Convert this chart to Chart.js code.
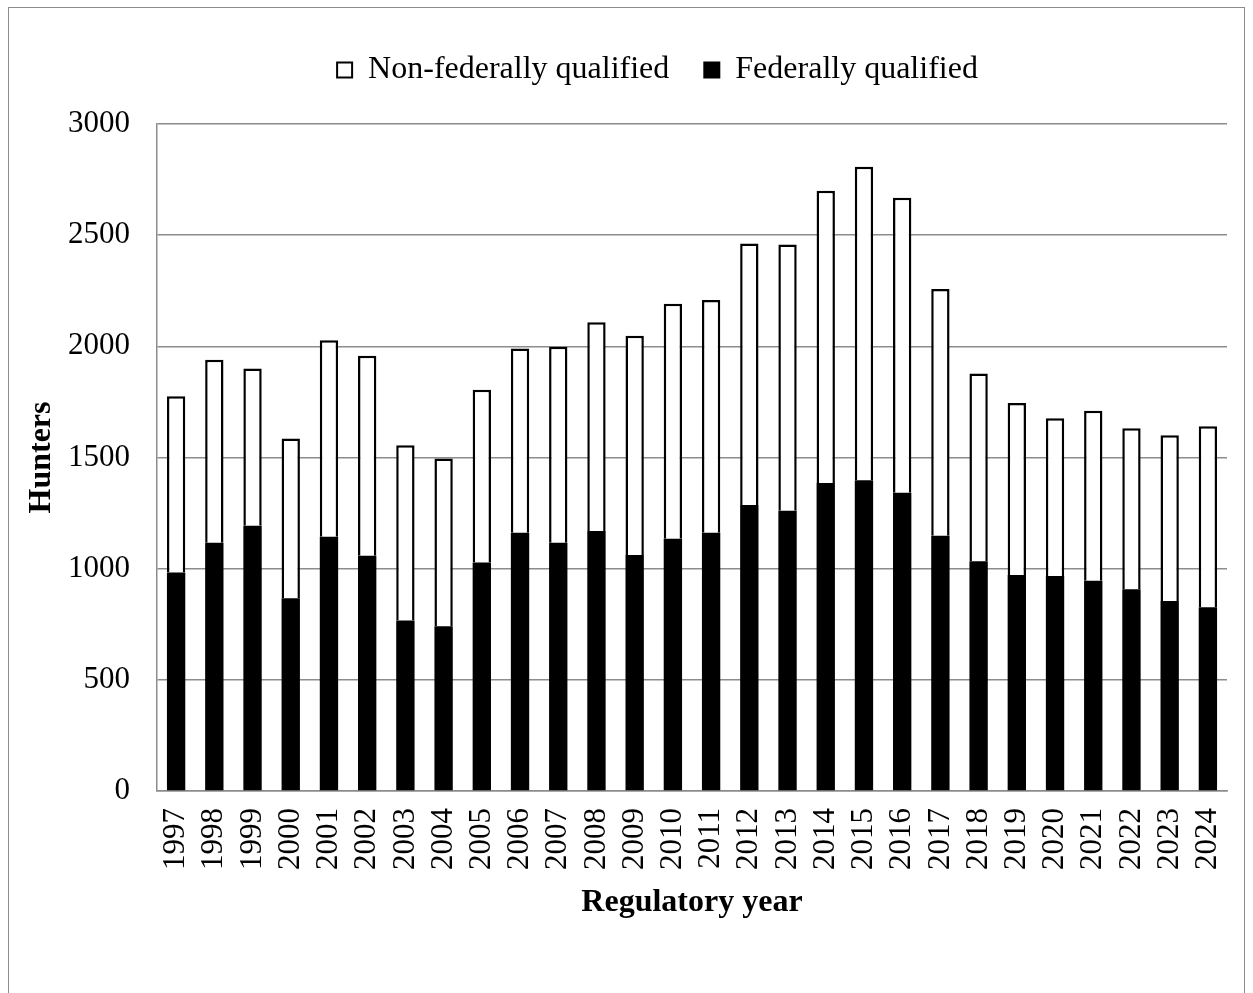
<!DOCTYPE html>
<html>
<head>
<meta charset="utf-8">
<script src="https://cdn.jsdelivr.net/npm/chart.js@4/dist/chart.umd.min.js"></script>
<style>
  html, body { margin: 0; padding: 0; background: #fff; }
  #wrap { position: relative; width: 1253px; height: 993px; }
</style>
</head>
<body>
<div id="wrap"><canvas id="c" width="1253" height="993"></canvas></div>
<script>
const years = ['1997','1998','1999','2000','2001','2002','2003','2004','2005','2006','2007','2008','2009','2010','2011','2012','2013','2014','2015','2016','2017','2018','2019','2020','2021','2022','2023','2024'];
const federallyQualified = [983,1117,1193,867,1144,1058,767,741,1028,1162,1117,1169,1062,1135,1162,1286,1260,1385,1398,1341,1148,1033,972,967,946,907,855,826];
const nonFederallyQualified = [792,823,707,718,883,900,788,754,777,828,881,939,986,1057,1046,1176,1198,1315,1410,1327,1110,845,773,710,764,725,745,814];
const yTicks = [0,500,1000,1500,2000,2500,3000];

const SERIF = '"Liberation Serif", "Times New Roman", serif';

const framePlugin = {
  id: 'frame',
  afterDraw(chart) {
    const ctx = chart.ctx;
    ctx.save();
    ctx.strokeStyle = '#8c8c8c';
    ctx.lineWidth = 1;
    ctx.strokeRect(8.5, 7.5, 1236, 990);
    ctx.restore();
  }
};

// shift the legend horizontally so it sits where the reference places it
const legendShift = {
  id: 'legendShift',
  afterLayout(chart) {
    const lg = chart.legend;
    if (!lg) return;
    lg.left += 34;
    lg.right += 34;
  }
};

new Chart(document.getElementById('c'), {
  type: 'bar',
  data: {
    labels: years,
    datasets: [
      {
        label: 'Federally qualified',
        data: federallyQualified,
        backgroundColor: '#000000',
        borderColor: '#000000',
        borderWidth: 0,
        barPercentage: 0.48,
        categoryPercentage: 1.0
      },
      {
        label: 'Non-federally qualified',
        data: nonFederallyQualified,
        backgroundColor: '#ffffff',
        borderColor: '#000000',
        borderWidth: 2.5,
        barPercentage: 0.48,
        categoryPercentage: 1.0
      }
    ]
  },
  options: {
    responsive: false,
    animation: false,
    devicePixelRatio: 1,
    layout: { padding: { left: 20, right: 26, top: 19, bottom: 0 } },
    plugins: {
      tooltip: { enabled: false },
      legend: {
        position: 'top',
        reverse: true,
        labels: {
          color: '#000',
          font: { family: SERIF, size: 32 },
          boxWidth: 15,
          boxHeight: 15,
          padding: 35,
          generateLabels(chart) {
            return chart.data.datasets.map((ds, i) => ({
              text: ds.label,
              fillStyle: ds.backgroundColor,
              strokeStyle: '#000',
              lineWidth: 2,
              hidden: false,
              datasetIndex: i,
              fontColor: '#000'
            }));
          }
        }
      }
    },
    scales: {
      x: {
        stacked: true,
        grid: { display: false, drawTicks: false },
        border: { display: true, color: '#8c8c8c', width: 1.5 },
        ticks: {
          color: '#000',
          font: { family: SERIF, size: 31 },
          maxRotation: 90,
          minRotation: 90,
          padding: 17,
          autoSkip: false
        },
        title: {
          display: true,
          text: 'Regulatory year',
          color: '#000',
          font: { family: SERIF, size: 32, weight: 'bold' },
          padding: { top: 0, bottom: 70.8 }
        },
        afterFit(scale) {
          scale.height = 202;
          scale.paddingRight = 0;
          scale.paddingLeft = 0;
        }
      },
      xTop: {
        type: 'category',
        position: 'top',
        display: true,
        grid: { display: false, drawTicks: false },
        border: { display: false },
        ticks: { display: false },
        afterFit(scale) {
          scale.height = 28;
          scale.paddingRight = 0;
          scale.paddingLeft = 0;
        }
      },
      y: {
        stacked: true,
        min: 0,
        max: 3000,
        afterBuildTicks(scale) { scale.ticks = yTicks.map(v => ({ value: v })); },
        grid: { color: '#8c8c8c', lineWidth: 1.5, drawTicks: false },
        border: { display: true, color: '#8c8c8c', width: 1.5 },
        ticks: {
          color: '#000',
          font: { family: SERIF, size: 31 },
          padding: 27,
          callback: (v) => String(v)
        },
        title: {
          display: true,
          text: 'Hunters',
          color: '#000',
          font: { family: SERIF, size: 32, weight: 'bold' },
          padding: { top: 2.8, bottom: 0 }
        },
        afterFit(scale) { scale.width = 137; }
      }
    }
  },
  plugins: [framePlugin, legendShift]
});
</script>
</body>
</html>
